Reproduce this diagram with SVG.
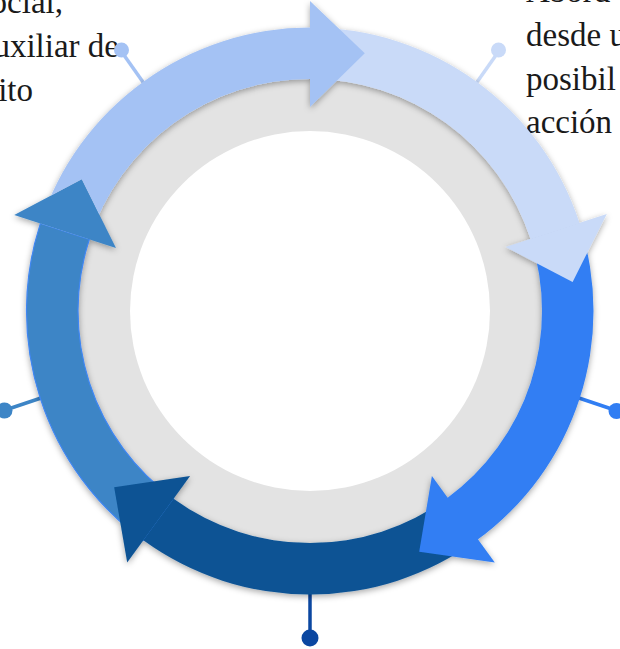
<svg xmlns="http://www.w3.org/2000/svg" width="620" height="649" viewBox="0 0 620 649">
<style>
  .txt{font-family:"Liberation Serif","DejaVu Serif",serif;font-size:33px;fill:#1a1a1a}
  .pin{stroke-width:3.5;fill:none}
</style>
<defs>
  <filter id="sh" x="-15%" y="-15%" width="130%" height="130%">
    <feDropShadow dx="0" dy="2" stdDeviation="3" flood-color="#000" flood-opacity="0.35"/>
  </filter>
  <clipPath id="cut5" clipPathUnits="userSpaceOnUse">
    <path clip-rule="evenodd" d="M-10 -10H630V660H-10Z M14.22 214.9 L115.98 247.96 L81.8 179.25Z"/>
  </clipPath>
</defs>
<rect width="620" height="649" fill="#fff"/>

<g id="texts">
  <text class="txt" x="63" y="13" text-anchor="end">ocial,</text>
  <text class="txt" x="119" y="57" text-anchor="end">uxiliar de</text>
  <text class="txt" x="33" y="101" text-anchor="end">ito</text>
  <text class="txt" x="526" y="2">Abord</text>
  <text class="txt" x="526" y="46">desde u</text>
  <text class="txt" x="526" y="90">posibil</text>
  <text class="txt" x="526" y="133">acción</text>
</g>

<g id="connectors">
  <line class="pin" x1="150" y1="92" x2="120.7" y2="50.5" stroke="#a4c2f4"/>
  <circle cx="121.5" cy="50" r="7.5" fill="#a4c2f4"/>
  <line class="pin" x1="470" y1="92" x2="499.3" y2="50.5" stroke="#c9daf8"/>
  <circle cx="498.5" cy="50" r="7.5" fill="#c9daf8"/>
  <line class="pin" x1="570" y1="395" x2="616.2" y2="410.5" stroke="#317ef3"/>
  <circle cx="616.5" cy="411" r="8" fill="#317ef3"/>
  <line class="pin" x1="310" y1="580" x2="310" y2="638" stroke="#0b47a1"/>
  <circle cx="310" cy="638" r="8.5" fill="#0b47a1"/>
  <line class="pin" x1="50" y1="395" x2="3.8" y2="410.5" stroke="#3d85c6"/>
  <circle cx="4.5" cy="410.5" r="8" fill="#3d85c6"/>
</g>

<g id="hub">
  <circle cx="310" cy="311" r="232" fill="#e3e3e3"/>
  <circle cx="310" cy="311" r="180" fill="#fff"/>
</g>

<g id="ring" filter="url(#sh)">
  <g id="seg5">
    <path d="M143.36 540.36 A283.5 283.5 0 0 1 40.38 223.39 L89.35 239.31 A232 232 0 0 0 173.63 498.69 Z" fill="#3d85c6" stroke="#3f86f2" stroke-width="1.2"/>
    <polygon points="14.22,214.9 115.98,247.96 81.8,179.25" fill="#3d85c6"/>
  </g>
  <g id="seg4">
    <path d="M476.64 540.36 A283.5 283.5 0 0 1 143.36 540.36 L173.63 498.69 A232 232 0 0 0 446.37 498.69 Z" fill="#0c5394"/>
    <polygon points="127.2,562.6 190.09,476.04 114.18,487.32" fill="#0c5394"/>
  </g>
  <g id="seg3">
    <path d="M579.62 223.39 A283.5 283.5 0 0 1 476.64 540.36 L446.37 498.69 A232 232 0 0 0 530.65 239.31 Z" fill="#317ef3"/>
    <polygon points="494.8,562.6 431.9,476.04 419.2,551.72" fill="#317ef3"/>
  </g>
  <g id="seg2">
    <path d="M310 27.5 A283.5 283.5 0 0 1 579.62 223.39 L530.65 239.31 A232 232 0 0 0 310 79 Z" fill="#c9daf8"/>
    <polygon points="606.8,213.9 505.5,247 572.6,282" fill="#c9daf8"/>
  </g>
  <g id="seg1">
    <path clip-path="url(#cut5)" d="M40.38 223.39 A283.5 283.5 0 0 1 310 27.5 L310 79 A232 232 0 0 0 89.35 239.31 Z" fill="#a4c2f4"/>
    <polygon points="310,1 310,107 364.78,53.26" fill="#a4c2f4"/>
  </g>
</g>
</svg>
